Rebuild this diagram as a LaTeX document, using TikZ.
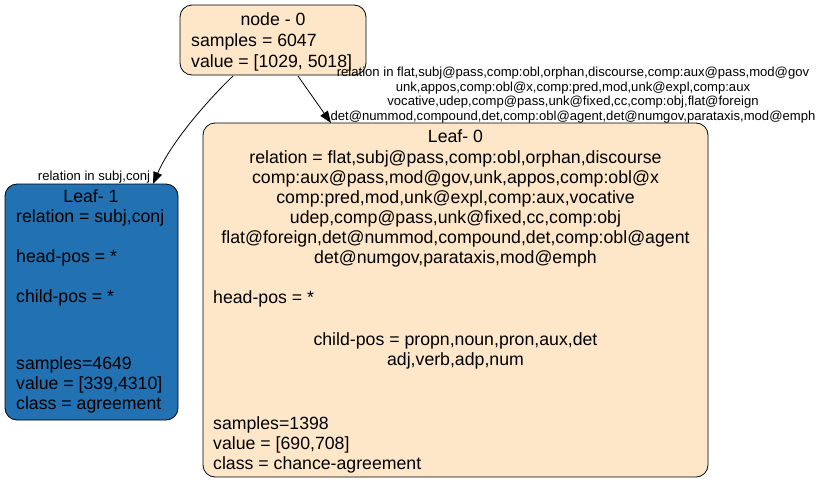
\documentclass[tikz,border=0pt]{standalone}
\usepackage{fontspec}
\setmainfont{Liberation Sans}
\usetikzlibrary{arrows.meta}
\definecolor{bisq}{RGB}{254,230,200}
\definecolor{leafblue}{RGB}{34,113,178}
\tikzset{
  box/.style={draw=black, rounded corners=12pt, line width=0.8pt, inner sep=0pt},
  txt/.style={font=\fontsize{17.7}{20}\selectfont, inner sep=0pt},
  elab/.style={font=\fontsize{13.1}{14}\selectfont, inner sep=0pt},
  conn/.style={line width=0.8pt, -{Triangle[length=12pt,width=9pt]}}
}
\begin{document}
\begin{tikzpicture}[x=1pt,y=-1pt]
\useasboundingbox (0,0) rectangle (822,485);
% boxes
\draw[box, fill=bisq] (180,5) rectangle (366,75);
\node[coordinate] (rootA) at (233,76) {};
\node[coordinate] (rootB) at (298,76) {};
\draw[box, fill=leafblue] (5,184) rectangle (178,420);
\node[coordinate] (leafA) at (153,184) {};
\draw[box, fill=bisq] (203,123) rectangle (708,477);
\node[coordinate] (leafB) at (331,123) {};
% root text
\node[txt, anchor=mid] (r1) at (273,23) {node - 0};
\node[txt, anchor=mid west] (r2) at (191,44) {samples = 6047};
\node[txt, anchor=mid west] (r3) at (191,65) {value = [1029, 5018]};
% leaf 1 text
\node[txt, anchor=mid] (a1) at (91,200) {Leaf- 1};
\node[txt, anchor=mid west] (a2) at (16,220) {relation = subj,conj};
\node[txt, anchor=mid west] (a3) at (16,260) {head-pos = *};
\node[txt, anchor=mid west] (a4) at (16,300) {child-pos = *};
\node[txt, anchor=mid west] (a5) at (16,367) {samples=4649};
\node[txt, anchor=mid west] (a6) at (16,387) {value = [339,4310]};
\node[txt, anchor=mid west] (a7) at (16,407) {class = agreement};
% leaf 0 text
\node[txt, anchor=mid] (b1) at (455.5,140) {Leaf- 0};
\node[txt, anchor=mid] (b2) at (455.5,161) {relation = flat,subj@pass,comp:obl,orphan,discourse};
\node[txt, anchor=mid] (b3) at (455.5,181) {comp:aux@pass,mod@gov,unk,appos,comp:obl@x};
\node[txt, anchor=mid] (b4) at (455.5,201) {comp:pred,mod,unk@expl,comp:aux,vocative};
\node[txt, anchor=mid] (b5) at (455.5,221) {udep,comp@pass,unk@fixed,cc,comp:obj};
\node[txt, anchor=mid] (b6) at (455.5,241) {flat@foreign,det@nummod,compound,det,comp:obl@agent};
\node[txt, anchor=mid] (b7) at (455.5,261) {det@numgov,parataxis,mod@emph};
\node[txt, anchor=mid west] (b8) at (213,301) {head-pos = *};
\node[txt, anchor=mid] (b9) at (455.5,343) {child-pos = propn,noun,pron,aux,det};
\node[txt, anchor=mid] (b10) at (455.5,363) {adj,verb,adp,num};
\node[txt, anchor=mid west] (b11) at (213,427) {samples=1398};
\node[txt, anchor=mid west] (b12) at (213,447) {value = [690,708]};
\node[txt, anchor=mid west] (b13) at (213,467) {class = chance-agreement};
% edges
\draw[conn] (rootA) .. controls (212,96) and (172,140) .. (leafA);
\draw[conn] (rootB) -- (leafB);
% edge labels
\node[elab, anchor=mid] (l1) at (94,178) {relation in subj,conj};
\node[elab, anchor=mid] (l2a) at (573,74) {relation in flat,subj@pass,comp:obl,orphan,discourse,comp:aux@pass,mod@gov};
\node[elab, anchor=mid] (l2b) at (573,89) {unk,appos,comp:obl@x,comp:pred,mod,unk@expl,comp:aux};
\node[elab, anchor=mid] (l2c) at (573,103) {vocative,udep,comp@pass,unk@fixed,cc,comp:obj,flat@foreign};
\node[elab, anchor=mid] (l2d) at (573,118) {det@nummod,compound,det,comp:obl@agent,det@numgov,parataxis,mod@emph};
\end{tikzpicture}
\end{document}
